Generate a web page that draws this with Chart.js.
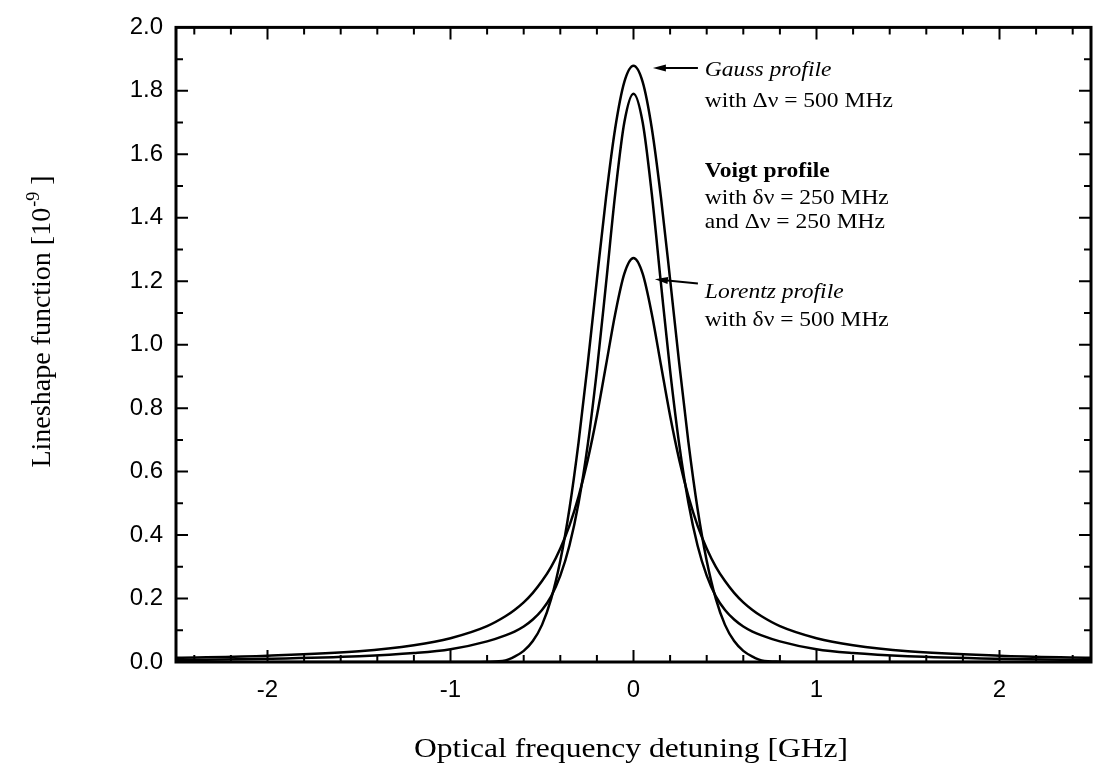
<!DOCTYPE html>
<html>
<head>
<meta charset="utf-8">
<title>Lineshape functions</title>
<script src="https://cdn.jsdelivr.net/npm/chart.js@4/dist/chart.umd.min.js"></script>
<style>
  html, body { margin: 0; padding: 0; background: #fff; }
  canvas { display: block; }
</style>
</head>
<body>
<canvas id="lineshape" width="1094" height="780"></canvas>
<script>
// detuning in GHz, profiles in units of 1e-9 s
const detuning = [-2.5, -2.0, -1.5, -1.2, -1.0, -0.8, -0.7, -0.65, -0.6, -0.55, -0.5, -0.45, -0.4, -0.35, -0.3, -0.25, -0.2, -0.15, -0.1, -0.05,
  0, 0.05, 0.1, 0.15, 0.2, 0.25, 0.3, 0.35, 0.4, 0.45, 0.5, 0.55, 0.6, 0.65, 0.7, 0.8, 1.0, 1.2, 1.5, 2.0, 2.5];
const gauss = [0, 0, 0, 0, 0, 0.001, 0.005, 0.017, 0.035, 0.066, 0.117, 0.199, 0.319, 0.483, 0.693, 0.940, 1.206, 1.464, 1.682, 1.828,
  1.879, 1.828, 1.682, 1.464, 1.206, 0.940, 0.693, 0.483, 0.319, 0.199, 0.117, 0.066, 0.035, 0.017, 0.005, 0.001, 0, 0, 0, 0, 0];
const voigt = [0.006, 0.010, 0.018, 0.028, 0.040, 0.065, 0.084, 0.096, 0.112, 0.134, 0.164, 0.207, 0.272, 0.367, 0.502, 0.685, 0.919, 1.193, 1.475, 1.701,
  1.791, 1.701, 1.475, 1.193, 0.919, 0.685, 0.502, 0.367, 0.272, 0.207, 0.164, 0.134, 0.112, 0.096, 0.084, 0.065, 0.040, 0.028, 0.018, 0.010, 0.006];
const lorentz = [0.013, 0.020, 0.034, 0.053, 0.075, 0.113, 0.144, 0.164, 0.188, 0.218, 0.255, 0.300, 0.358, 0.430, 0.522, 0.637, 0.776, 0.936, 1.097, 1.224,
  1.273, 1.224, 1.097, 0.936, 0.776, 0.637, 0.522, 0.430, 0.358, 0.300, 0.255, 0.218, 0.188, 0.164, 0.144, 0.113, 0.075, 0.053, 0.034, 0.020, 0.013];
const xTicks = [-2, -1, 0, 1, 2];
const yTicks = [0, 0.2, 0.4, 0.6, 0.8, 1.0, 1.2, 1.4, 1.6, 1.8, 2.0];

const serif = '"Liberation Serif", "Times New Roman", serif';
const sans = '"Liberation Sans", Arial, sans-serif';

// text blocks next to the peaks, anchored in data units
const notes = [
  { x: 0.39, y: 1.863, text: 'Gauss profile', font: 'italic 21px' },
  { x: 0.39, y: 1.766, text: 'with \u0394\u03bd = 500 MHz', font: '21px' },
  { x: 0.39, y: 1.545, text: 'Voigt profile', font: 'bold 21px' },
  { x: 0.39, y: 1.461, text: 'with \u03b4\u03bd = 250 MHz', font: '21px' },
  { x: 0.39, y: 1.386, text: 'and \u0394\u03bd = 250 MHz', font: '21px' },
  { x: 0.39, y: 1.165, text: 'Lorentz profile', font: 'italic 21px' },
  { x: 0.39, y: 1.075, text: 'with \u03b4\u03bd = 500 MHz', font: '21px' },
];
const arrows = [
  { from: [0.352, 1.872], to: [0.106, 1.872] },
  { from: [0.352, 1.193], to: [0.117, 1.206] },
];

function series(values) {
  return detuning.map((x, i) => ({ x, y: values[i] }));
}

function stretchedText(ctx, text, x, y, sx) {
  ctx.save();
  ctx.translate(x, y);
  ctx.scale(sx, 1);
  ctx.fillText(text, 0, 0);
  ctx.restore();
}

// frame and inward ticks on all four sides
const frame = {
  id: 'frame',
  afterDatasetsDraw(chart) {
    const { ctx, chartArea: a, scales: { x, y } } = chart;
    ctx.save();
    ctx.strokeStyle = '#000';
    ctx.lineWidth = 2;
    ctx.beginPath();
    for (let i = -12; i <= 12; i++) {
      const px = x.getPixelForValue(i / 5);
      const len = i % 5 === 0 ? 12 : 7;
      ctx.moveTo(px, a.bottom); ctx.lineTo(px, a.bottom - len);
      ctx.moveTo(px, a.top); ctx.lineTo(px, a.top + len);
    }
    for (let j = 1; j < 20; j++) {
      const py = y.getPixelForValue(j / 10);
      const len = j % 2 === 0 ? 12 : 7;
      ctx.moveTo(a.left, py); ctx.lineTo(a.left + len, py);
      ctx.moveTo(a.right, py); ctx.lineTo(a.right - len, py);
    }
    ctx.stroke();
    ctx.lineWidth = 3;
    ctx.strokeRect(a.left, a.top, a.right - a.left, a.bottom - a.top);
    ctx.restore();
  },
};

// axis titles, notes and arrows
const labels = {
  id: 'labels',
  afterDraw(chart) {
    const { ctx, scales: { x, y } } = chart;
    ctx.save();
    ctx.fillStyle = '#000';
    ctx.strokeStyle = '#000';

    ctx.font = '27px ' + serif;
    ctx.textAlign = 'center';
    ctx.textBaseline = 'middle';
    stretchedText(ctx, 'Optical frequency detuning [GHz]', 631, 750, 1.17);

    // rotated title with a superscript exponent
    const main = 'Lineshape function [10';
    const sup = '-9';
    const tail = ' ]';
    ctx.translate(50, 322);
    ctx.rotate(-Math.PI / 2);
    ctx.textAlign = 'left';
    ctx.textBaseline = 'alphabetic';
    ctx.font = '28px ' + serif;
    const w1 = ctx.measureText(main).width;
    const w3 = ctx.measureText(tail).width;
    ctx.font = '18px ' + serif;
    const w2 = ctx.measureText(sup).width;
    let cx = -(w1 + w2 + w3) / 2;
    ctx.font = '28px ' + serif;
    ctx.fillText(main, cx, 0);
    cx += w1;
    ctx.font = '18px ' + serif;
    ctx.fillText(sup, cx + 1, -11);
    cx += w2 + 1;
    ctx.font = '28px ' + serif;
    ctx.fillText(tail, cx, 0);
    ctx.setTransform(1, 0, 0, 1, 0, 0);

    ctx.textAlign = 'left';
    ctx.textBaseline = 'middle';
    notes.forEach((n) => {
      ctx.font = n.font + ' ' + serif;
      stretchedText(ctx, n.text, x.getPixelForValue(n.x), y.getPixelForValue(n.y), 1.12);
    });

    ctx.lineWidth = 2;
    arrows.forEach(({ from, to }) => {
      const x0 = x.getPixelForValue(from[0]);
      const y0 = y.getPixelForValue(from[1]);
      const x1 = x.getPixelForValue(to[0]);
      const y1 = y.getPixelForValue(to[1]);
      const ang = Math.atan2(y1 - y0, x1 - x0);
      ctx.beginPath();
      ctx.moveTo(x0, y0);
      ctx.lineTo(x1 - 10 * Math.cos(ang), y1 - 10 * Math.sin(ang));
      ctx.stroke();
      ctx.beginPath();
      ctx.moveTo(x1, y1);
      ctx.lineTo(x1 - 13 * Math.cos(ang) - 3.5 * Math.sin(ang), y1 - 13 * Math.sin(ang) + 3.5 * Math.cos(ang));
      ctx.lineTo(x1 - 13 * Math.cos(ang) + 3.5 * Math.sin(ang), y1 - 13 * Math.sin(ang) - 3.5 * Math.cos(ang));
      ctx.closePath();
      ctx.fill();
    });
    ctx.restore();
  },
};

const line = (values) => ({
  data: series(values),
  borderColor: '#000',
  borderWidth: 2.5,
  pointRadius: 0,
  fill: false,
  cubicInterpolationMode: 'monotone',
});

new Chart(document.getElementById('lineshape'), {
  type: 'line',
  data: { datasets: [line(gauss), line(voigt), line(lorentz)] },
  options: {
    responsive: false,
    animation: false,
    devicePixelRatio: 1,
    layout: { padding: { top: 20, right: 3, left: 0, bottom: 0 } },
    plugins: { legend: { display: false }, tooltip: { enabled: false } },
    scales: {
      x: {
        type: 'linear',
        min: -2.5,
        max: 2.5,
        afterBuildTicks: (scale) => { scale.ticks = xTicks.map((value) => ({ value })); },
        afterFit: (scale) => { scale.height = 118; },
        grid: { display: false, drawTicks: false },
        border: { display: false },
        ticks: { color: '#000', padding: 14, maxRotation: 0, font: { family: sans, size: 24 }, callback: (v) => String(v) },
      },
      y: {
        type: 'linear',
        min: 0,
        max: 2,
        afterBuildTicks: (scale) => { scale.ticks = yTicks.map((value) => ({ value })); },
        afterFit: (scale) => { scale.width = 176; },
        grid: { display: false, drawTicks: false },
        border: { display: false },
        ticks: { color: '#000', padding: 13, font: { family: sans, size: 24 }, callback: (v) => v.toFixed(1) },
      },
    },
  },
  plugins: [frame, labels],
});
</script>
</body>
</html>
